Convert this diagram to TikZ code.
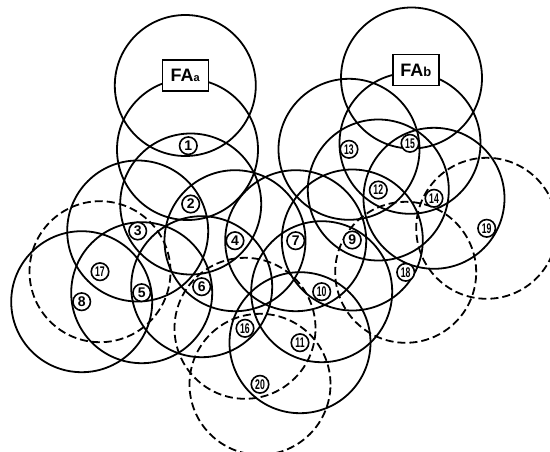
\documentclass[tikz,border=0pt]{standalone}
\usepackage{fontspec}
\setmainfont{Liberation Sans}
\newcommand{\twodig}[1]{\scalebox{0.62}[1]{#1}}
\begin{document}
\begin{tikzpicture}[x=1pt,y=-1pt,
  cell/.style={line width=1.8pt},
  dcell/.style={line width=1.8pt, dash pattern=on 8pt off 4pt},
  lbl/.style={circle, draw, line width=1.6pt, fill=white, inner sep=0pt,
    minimum size=17.5pt, font=\bfseries\fontsize{14}{14}\selectfont},
  fabox/.style={draw, line width=1.5pt, fill=white, minimum width=46pt,
    minimum height=31pt, inner sep=0pt, font=\bfseries\fontsize{18}{18}\selectfont}]
\useasboundingbox (0,0) rectangle (550,451);
\clip (0,0) rectangle (550,451);
% cell circles (solid)
\foreach \p in {(185.3,85.5),(411.5,78),(187.5,149.5),(190.7,204),(137.7,231),
  (235,240.7),(141.7,292.7),(201.7,286.7),(295.7,240.7),(81.7,301.7),
  (352.3,240),(321.7,291.7),(300,342.7),(378.3,190),(349,149.3),(434,198.3),(410,143.3)}
  \draw[cell] \p circle[radius=70.5pt];
% cell circles (dashed)
\foreach \p in {(245,328.3),(100,271.7),(405.7,272.3),(486.7,228.3),(260,384.3)}
  \draw[dcell] \p circle[radius=70.5pt];
% base station boxes
\node[fabox] (fa) at (185.3,75.3) {FA\raisebox{-0.5pt}{\fontsize{11}{11}\selectfont a}};
\node[fabox] (fb) at (415.8,70) {FA\fontsize{13}{13}\selectfont b};
% labels
\node[lbl] (n1) at (188.3,145.7) {1};
\node[lbl] (n2) at (190.7,204) {2};
\node[lbl] (n3) at (137.7,231) {3};
\node[lbl] (n4) at (235,240.7) {4};
\node[lbl] (n5) at (141.7,292.7) {5};
\node[lbl] (n6) at (201.7,286.7) {6};
\node[lbl] (n7) at (295.7,240.7) {7};
\node[lbl] (n8) at (81.7,301.7) {8};
\node[lbl] (n9) at (352.3,240) {9};
\node[lbl] (n10) at (321.7,291.7) {\twodig{10}};
\node[lbl] (n11) at (300,342.7) {\twodig{11}};
\node[lbl] (n12) at (378.3,190) {\twodig{12}};
\node[lbl] (n13) at (349,149.3) {\twodig{13}};
\node[lbl] (n14) at (434,198.3) {\twodig{14}};
\node[lbl] (n15) at (410,143.3) {\twodig{15}};
\node[lbl] (n16) at (245,328.3) {\twodig{16}};
\node[lbl] (n17) at (100,271.7) {\twodig{17}};
\node[lbl] (n18) at (405.7,272.3) {\twodig{18}};
\node[lbl] (n19) at (486.7,228.3) {\twodig{19}};
\node[lbl] (n20) at (260,384.3) {\twodig{20}};
\end{tikzpicture}
\end{document}
